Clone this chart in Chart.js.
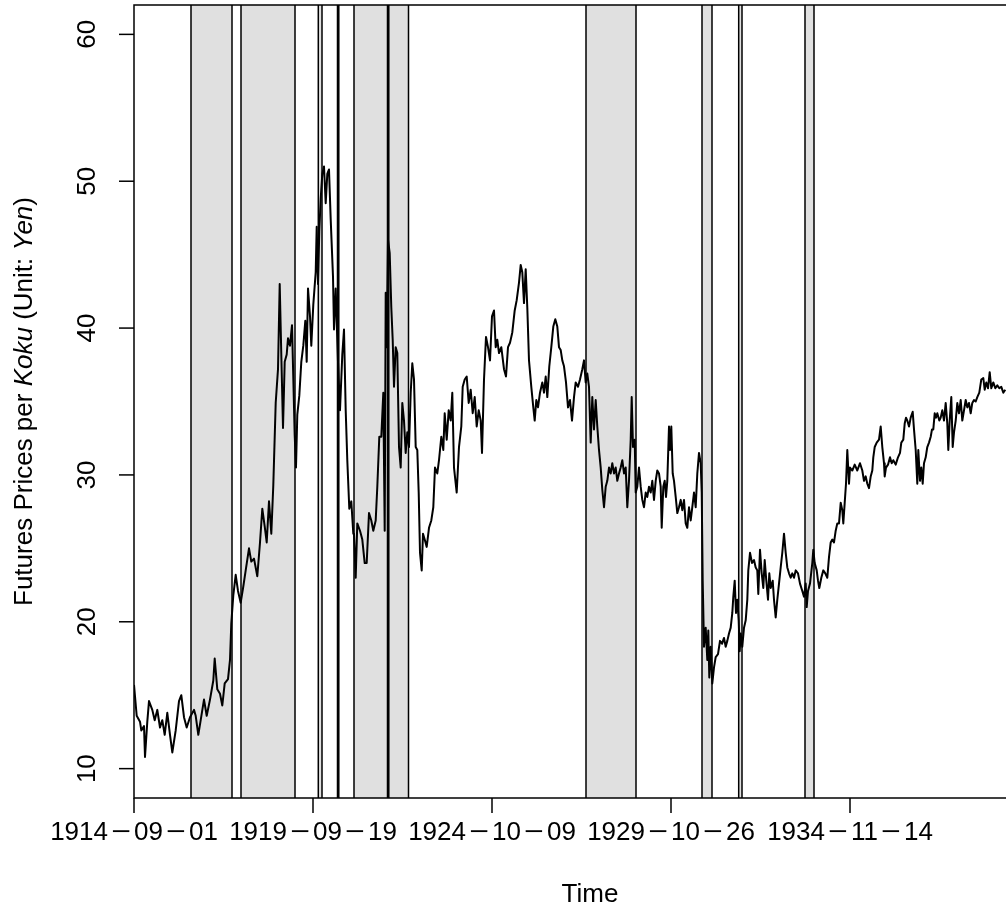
<!DOCTYPE html>
<html>
<head>
<meta charset="utf-8">
<script src="https://cdn.jsdelivr.net/npm/chart.js@4.4.1/dist/chart.umd.min.js"></script>
<style>
  html, body { margin: 0; padding: 0; background: #fff; overflow: hidden; width: 1006px; height: 920px; }
  #wrap { position: absolute; left: 0; top: 0; width: 1050px; height: 920px; }
</style>
</head>
<body>
<div id="wrap"><canvas id="c" width="1050" height="920"></canvas></div>
<script>
// Trading-day index of each date tick and its label
const tickDays = [0, 1790, 3580, 5370, 7160];
const tickLabels = ['1914\u221209\u221201', '1919\u221209\u221219', '1924\u221210\u221209', '1929\u221210\u221226', '1934\u221211\u221214'];
const yTicks = [10, 20, 30, 40, 50, 60];

// Shaded periods (trading-day index, start / end)
const bandStart = [570, 1070, 1843, 2035, 2200, 2535, 4520, 5680, 6047, 6710];
const bandEnd   = [980, 1610, 1880, 2048, 2745, 2548, 5020, 5780, 6080, 6800];

// Rice futures price per koku (yen), by trading-day index
const day = [
  0, 27, 60, 73, 100, 110, 133, 150, 183, 207,
  233, 260, 283, 307, 333, 360, 383, 417, 450, 473,
  500, 527, 560, 600, 617, 643, 667, 700, 727, 760,
  793, 807, 833, 860, 883, 907, 940, 960, 973, 993,
  1017, 1040, 1067, 1093, 1117, 1150, 1173, 1200, 1233, 1260,
  1283, 1307, 1327, 1350, 1373, 1393, 1417, 1440, 1457, 1473,
  1490, 1507, 1527, 1540, 1560, 1580, 1593, 1607, 1620, 1633,
  1653, 1673, 1693, 1713, 1727, 1740, 1760, 1773, 1793, 1817,
  1827, 1840, 1853, 1867, 1883, 1900, 1917, 1933, 1950, 1967,
  1990, 2000, 2017, 2040, 2060, 2083, 2100, 2117, 2133, 2153,
  2173, 2193,
  2200, 2217, 2233, 2260, 2283, 2307, 2327, 2350, 2373, 2393,
  2417, 2433, 2453, 2473, 2493, 2507, 2517, 2527, 2540, 2557,
  2573, 2587, 2600, 2617, 2633, 2650, 2667, 2683, 2700, 2717,
  2733, 2750, 2767, 2783, 2800, 2817, 2833, 2847, 2860, 2877,
  2890, 2907, 2927, 2950, 2973, 2993, 3010, 3033, 3050, 3073,
  3093, 3107, 3127, 3147, 3167, 3183, 3200, 3227, 3250, 3273,
  3287, 3307, 3327, 3347, 3367, 3387, 3407, 3427, 3447, 3467,
  3480, 3500, 3520, 3540, 3560, 3580, 3600, 3617, 3633, 3650,
  3673, 3700, 3720, 3740, 3760, 3783, 3807, 3827, 3850, 3867,
  3883, 3900, 3917, 3933, 3950, 3973, 3993, 4007, 4023, 4040,
  4060, 4083, 4100, 4117, 4133, 4153, 4173, 4193, 4213, 4233,
  4250, 4267, 4283, 4300, 4320, 4340, 4360, 4380,
  4400, 4417, 4440, 4460, 4483, 4500, 4517, 4533, 4550, 4567,
  4583, 4600, 4617, 4633, 4650, 4667, 4683, 4700, 4717, 4733,
  4750, 4767, 4783, 4800, 4817, 4833, 4850, 4867, 4883, 4900,
  4917, 4933, 4950, 4967, 4977, 4990, 5007, 5017, 5033, 5050,
  5067, 5083, 5100, 5117, 5133, 5150, 5167, 5183, 5200, 5217,
  5233, 5250, 5267, 5277, 5293, 5307, 5320, 5333, 5350, 5360,
  5373, 5387, 5400, 5417, 5433, 5450, 5467, 5483, 5500, 5517,
  5533, 5550, 5567, 5583, 5600, 5617, 5633, 5650, 5667, 5677,
  5687, 5700, 5717, 5733, 5743, 5753, 5767, 5783, 5800, 5817,
  5840, 5860, 5880, 5900, 5917, 5933, 5950, 5967, 5983, 5993,
  6007, 6020, 6033, 6047, 6057, 6067, 6083, 6100, 6117, 6133,
  6143, 6160, 6180, 6200, 6217, 6233, 6243, 6260, 6277, 6293,
  6307, 6323, 6340, 6353, 6367, 6387, 6400, 6417, 6433, 6450,
  6467, 6483, 6500, 6517, 6533, 6550, 6567, 6583,
  6600, 6617, 6640, 6660, 6683, 6700, 6717, 6727, 6740, 6760,
  6783, 6793, 6807, 6827, 6840, 6853, 6873, 6893, 6913, 6933,
  6950, 6967, 6983, 7000, 7017, 7033, 7050, 7067, 7083, 7093,
  7107, 7120, 7133, 7150, 7160, 7183, 7207, 7233, 7260, 7283,
  7300, 7317, 7333, 7350, 7367, 7383, 7393, 7407, 7427, 7450,
  7467, 7483, 7500, 7507, 7520, 7540, 7560, 7577, 7593, 7617,
  7640, 7660, 7673, 7693, 7707, 7720, 7733, 7750, 7767, 7787,
  7800, 7817, 7833, 7843, 7860, 7873, 7887, 7900, 7917, 7933,
  7950, 7967, 7980, 7993, 8007, 8020, 8033, 8053, 8067, 8083,
  8100, 8117, 8133, 8143, 8157, 8173, 8187, 8200, 8217, 8233,
  8250, 8267, 8283, 8300, 8317, 8333, 8350, 8367, 8383, 8400,
  8417, 8433, 8453, 8473, 8493, 8507, 8523, 8540, 8557, 8573,
  8593, 8613, 8633, 8653, 8673, 8693, 8713
];
const price = [
  15.7, 13.6, 13.2, 12.6, 12.9, 10.8, 13.2, 14.6, 14.0, 13.3,
  14.0, 12.8, 13.3, 12.3, 13.8, 12.3, 11.1, 12.6, 14.6, 15.0,
  13.5, 12.8, 13.5, 14.0, 13.6, 12.3, 13.3, 14.7, 13.6, 14.7,
  16.0, 17.5, 15.4, 15.1, 14.3, 15.8, 16.1, 17.4, 19.9, 21.8,
  23.2, 22.1, 21.3, 22.4, 23.5, 25.0, 24.1, 24.3, 23.1, 25.4,
  27.7, 26.5, 25.4, 28.2, 26.0, 29.3, 34.9, 37.2, 43.0, 38.2,
  33.2, 37.7, 38.2, 39.3, 38.8, 40.2, 36.6, 32.7, 30.5, 34.1,
  35.4, 37.7, 38.8, 40.5, 37.7, 42.7, 40.8, 38.8, 41.6, 43.8,
  46.9, 43.0, 46.6, 48.8, 50.5, 51.0, 48.5, 50.5, 50.8, 47.4,
  43.5, 39.9, 42.7, 37.7, 34.4, 38.2, 39.9, 34.4, 31.0, 27.7,
  28.2, 26.0,
  26.0, 23.0, 26.7, 26.2, 25.6, 24.0, 24.0, 27.4, 26.9, 26.2,
  26.9, 29.2, 32.6, 32.6, 35.6, 26.2, 42.4, 38.7, 46.0, 45.1,
  41.4, 39.2, 36.0, 38.7, 38.3, 31.9, 30.5, 34.9, 33.7, 31.5,
  32.9, 31.9, 35.6, 37.6, 36.5, 31.9, 31.7, 28.8, 24.7, 23.5,
  26.0, 25.6, 25.1, 26.4, 26.9, 27.8, 30.5, 30.1, 31.0, 32.6,
  31.7, 34.2, 32.4, 34.4, 33.7, 35.6, 30.5, 28.8, 31.9, 33.3,
  36.0, 36.5, 36.7, 34.9, 35.8, 34.2, 35.3, 33.3, 34.4, 33.7,
  31.5, 36.5, 39.4, 38.7, 37.8, 40.8, 41.2, 38.7, 39.2, 38.3,
  38.7, 37.2, 36.7, 38.7, 39.0, 39.7, 41.2, 41.9, 43.1, 44.3,
  43.8, 41.7, 44.0, 41.4, 37.8, 36.0, 34.6, 33.7, 35.1, 34.6,
  35.6, 36.3, 35.6, 36.7, 35.3, 37.4, 38.7, 40.1, 40.6, 40.1,
  38.7, 38.5, 37.8, 37.4, 36.3, 34.6, 35.1, 33.7,
  35.3, 36.3, 36.0, 36.5, 37.2, 37.8, 36.3, 36.9, 36.0, 32.2,
  35.3, 33.1, 35.1, 33.3, 31.7, 30.5, 29.0, 27.8, 29.2, 29.6,
  30.5, 30.1, 30.8, 30.1, 30.5, 29.6, 30.1, 30.5, 31.0, 30.1,
  30.5, 27.8, 29.6, 32.4, 35.3, 31.9, 32.4, 28.8, 29.2, 30.5,
  29.2, 28.3, 27.8, 28.8, 28.5, 29.2, 28.8, 29.6, 28.3, 29.6,
  30.3, 30.1, 29.2, 26.4, 29.2, 29.6, 28.5, 29.6, 33.3, 31.7,
  33.3, 30.1, 29.6, 28.5, 27.4, 27.8, 28.3, 27.6, 28.3, 26.7,
  26.4, 27.8, 26.9, 27.8, 28.8, 27.8, 30.1, 31.5, 30.8, 28.8,
  22.8, 18.3, 19.6, 17.4, 19.4, 16.2, 18.3, 15.8, 16.9, 17.6,
  17.8, 18.7, 18.5, 18.9, 18.3, 18.7, 19.2, 19.6, 20.6, 21.7,
  22.8, 20.6, 21.5, 20.1, 18.0, 19.2, 18.3, 19.6, 20.1, 21.5,
  23.5, 24.7, 24.0, 24.2, 23.7, 23.5, 21.9, 24.9, 23.3, 22.3,
  24.2, 22.8, 21.5, 23.3, 22.3, 22.8, 21.5, 20.3, 21.5, 22.6,
  23.7, 24.7, 26.0, 24.7, 23.7, 23.3, 23.0, 23.3,
  23.0, 23.5, 23.3, 22.6, 22.1, 21.7, 22.6, 21.0, 22.1, 22.6,
  24.0, 24.9, 24.0, 23.5, 22.8, 22.3, 23.0, 23.5, 23.3, 23.0,
  24.4, 25.4, 25.6, 25.4, 26.2, 26.7, 26.7, 28.1, 27.6, 26.7,
  28.1, 29.4, 31.7, 29.4, 30.5, 30.3, 30.7, 30.3, 30.8, 30.3,
  29.6, 29.9, 29.4, 29.1, 29.9, 30.3, 31.2, 31.9, 32.2, 32.4,
  33.3, 31.9, 30.8, 29.9, 30.5, 30.7, 31.2, 30.8, 31.0, 30.7,
  31.2, 31.5, 32.2, 32.4, 33.5, 33.9, 33.7, 33.3, 33.9, 34.3,
  33.1, 31.7, 29.4, 31.7, 29.6, 30.5, 29.4, 30.8, 31.2, 31.9,
  32.2, 32.6, 33.1, 33.1, 34.2, 33.9, 34.2, 33.7, 33.9, 34.4,
  33.7, 34.9, 33.5, 31.7, 33.7, 35.3, 31.9, 32.9, 33.7, 34.9,
  34.2, 35.1, 33.7, 34.4, 35.1, 34.6, 34.9, 34.2, 34.9, 35.1,
  35.0, 35.3, 35.6, 36.5, 36.6, 35.8, 36.3, 35.9, 37.0, 35.9,
  36.3, 35.9, 36.1, 35.9, 36.0, 35.6, 35.8
];

const FONT = '"Liberation Sans", Arial, Helvetica, sans-serif';
const FS = 26;

// Draws a date label centred at (cx, cy); each minus sign sits in a one-em slot,
// stretched a little so it reads as a long dash
function drawDateLabel(ctx, text, cx, cy) {
  ctx.font = FS + 'px ' + FONT;
  const segs = text.split('\u2212');
  const widths = segs.map(s => ctx.measureText(s).width);
  const dashW = FS;
  const total = widths.reduce((a, b) => a + b, 0) + dashW * (segs.length - 1);
  let x0 = cx - total / 2;
  ctx.textAlign = 'left';
  segs.forEach((s, i) => {
    ctx.fillText(s, x0, cy);
    x0 += widths[i];
    if (i < segs.length - 1) {
      ctx.save();
      ctx.translate(x0 + dashW / 2, cy);
      ctx.scale(1.3, 1);
      ctx.textAlign = 'center';
      ctx.fillText('\u2212', 0, 0);
      ctx.restore();
      x0 += dashW;
    }
  });
}

// Base-graphics style frame: shaded periods, box, outward ticks, rotated labels
const framePlugin = {
  id: 'frame',
  beforeDatasetsDraw(chart) {
    const { ctx, chartArea: a, scales: { x } } = chart;
    ctx.save();
    ctx.beginPath();
    ctx.rect(a.left, a.top, a.right - a.left, a.bottom - a.top);
    ctx.clip();
    for (let i = 0; i < bandStart.length; i++) {
      const x0 = x.getPixelForValue(bandStart[i]);
      const x1 = x.getPixelForValue(bandEnd[i]);
      ctx.fillStyle = '#e0e0e0';
      ctx.fillRect(x0, a.top, x1 - x0, a.bottom - a.top);
      ctx.strokeStyle = '#000';
      ctx.lineWidth = 1.5;
      ctx.beginPath();
      ctx.moveTo(x0, a.top); ctx.lineTo(x0, a.bottom);
      ctx.moveTo(x1, a.top); ctx.lineTo(x1, a.bottom);
      ctx.stroke();
    }
    ctx.restore();
  },
  afterDraw(chart) {
    const { ctx, chartArea: a, scales: { x, y } } = chart;
    ctx.save();
    ctx.strokeStyle = '#000';
    ctx.lineWidth = 1.5;
    ctx.strokeRect(a.left, a.top, a.right - a.left, a.bottom - a.top);

    ctx.fillStyle = '#000';
    const tickLen = 15;

    // x ticks and date labels
    ctx.textBaseline = 'middle';
    tickDays.forEach((d, i) => {
      const px = x.getPixelForValue(d);
      ctx.beginPath();
      ctx.moveTo(px, a.bottom); ctx.lineTo(px, a.bottom + tickLen);
      ctx.stroke();
      drawDateLabel(ctx, tickLabels[i], px, a.bottom + 35);
    });

    // y ticks and rotated labels
    ctx.font = FS + 'px ' + FONT;
    ctx.textAlign = 'center';
    yTicks.forEach(v => {
      const py = y.getPixelForValue(v);
      ctx.beginPath();
      ctx.moveTo(a.left - tickLen, py); ctx.lineTo(a.left, py);
      ctx.stroke();
      ctx.save();
      ctx.translate(a.left - 46, py);
      ctx.rotate(-Math.PI / 2);
      ctx.fillText(String(v), 0, 0);
      ctx.restore();
    });

    // x title
    ctx.fillText('Time', (a.left + a.right) / 2, a.bottom + 97);

    // y title with italic unit words
    const parts = [
      ['Futures Prices per ', 'normal'],
      ['Koku', 'italic'],
      [' (Unit: ', 'normal'],
      ['Yen', 'italic'],
      [')', 'normal']
    ];
    let total = 0;
    parts.forEach(p => { ctx.font = p[1] + ' ' + FS + 'px ' + FONT; total += ctx.measureText(p[0]).width; });
    ctx.save();
    ctx.translate(a.left - 109, (a.top + a.bottom) / 2);
    ctx.rotate(-Math.PI / 2);
    ctx.textAlign = 'left';
    let cx = -total / 2;
    parts.forEach(p => {
      ctx.font = p[1] + ' ' + FS + 'px ' + FONT;
      ctx.fillText(p[0], cx, 0);
      cx += ctx.measureText(p[0]).width;
    });
    ctx.restore();
    ctx.restore();
  }
};

new Chart(document.getElementById('c'), {
  type: 'line',
  data: {
    datasets: [{
      data: day.map((d, i) => ({ x: d, y: price[i] })),
      borderColor: '#000',
      borderWidth: 2,
      borderJoinStyle: 'round',
      pointRadius: 0,
      tension: 0,
      fill: false
    }]
  },
  options: {
    responsive: false,
    animation: false,
    devicePixelRatio: 1,
    layout: { padding: { top: 5, right: 4, left: 0, bottom: 0 } },
    plugins: { legend: { display: false }, tooltip: { enabled: false } },
    scales: {
      x: {
        type: 'linear', min: 0, max: 9120,
        grid: { display: false }, border: { display: false },
        ticks: { display: false },
        afterFit(s) { s.height = 122; }
      },
      y: {
        type: 'linear', min: 8, max: 62,
        grid: { display: false }, border: { display: false },
        ticks: { display: false },
        afterFit(s) { s.width = 134; }
      }
    }
  },
  plugins: [framePlugin]
});
</script>
</body>
</html>
